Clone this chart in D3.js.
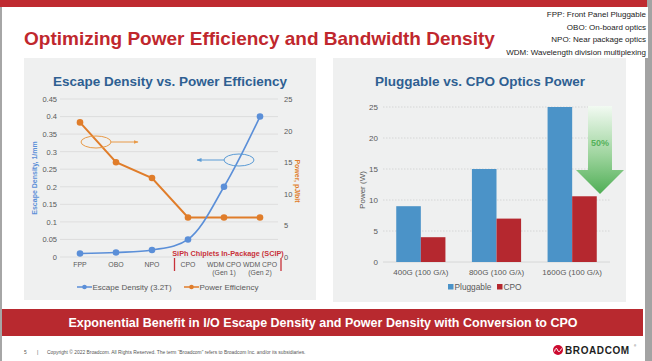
<!DOCTYPE html>
<html>
<head>
<meta charset="utf-8">
<script src="https://cdn.jsdelivr.net/npm/d3@7"></script>
<style>
  body { margin: 0; background: #fff; }
  svg { display: block; font-family: "Liberation Sans", Arial, sans-serif; }
</style>
</head>
<body>
<div id="slide"></div>
<script>
// left chart data
const stages = ['FPP', 'OBO', 'NPO', 'CPO', 'WDM CPO (Gen 1)', 'WDM CPO (Gen 2)']
const stageLines = [['FPP'], ['OBO'], ['NPO'], ['CPO'], ['WDM CPO', '(Gen 1)'], ['WDM CPO', '(Gen 2)']]
const escapeDensity = [0.01, 0.013, 0.02, 0.05, 0.2, 0.4]
const powerEfficiency = [21.3, 15, 12.5, 6.25, 6.25, 6.25]
const densityTicks = [0, 0.05, 0.1, 0.15, 0.2, 0.25, 0.3, 0.35, 0.4, 0.45]
const powerTicks = [0, 5, 10, 15, 20, 25]

// right chart data
const speeds = ['400G (100 G/λ)', '800G (100 G/λ)', '1600G (100 G/λ)']
const pluggablePower = [9, 15, 25]
const cpoPower = [4, 7, 10.6]
const wattTicks = [0, 5, 10, 15, 20, 25]

const notes = [
  'FPP: Front Panel Pluggable',
  'OBO: On-board optics',
  'NPO: Near package optics',
  'WDM: Wavelength division multiplexing'
]

const W = 652, H = 361
const red = '#bf2a30'
const blue = '#5b8fd8'
const orange = '#e07d2a'
const grey = '#595959'

const svg = d3.select('#slide').append('svg').attr('width', W).attr('height', H)

// ---- slide frame
svg.append('rect').attr('x', 0).attr('y', 0).attr('width', 2).attr('height', H).attr('fill', '#a6a6a6')
svg.append('rect').attr('x', 645).attr('y', 0).attr('width', 7).attr('height', H).attr('fill', '#a3a3a3')
svg.append('rect').attr('x', 0).attr('y', 0).attr('width', 647).attr('height', 7).attr('fill', red)

svg.append('text')
  .attr('x', 24).attr('y', 45)
  .attr('font-size', 19).attr('font-weight', 'bold').attr('fill', '#c0272d')
  .text('Optimizing Power Efficiency and Bandwidth Density')

svg.append('rect').attr('x', 505).attr('y', 7).attr('width', 143).attr('height', 51).attr('fill', '#fff')
svg.append('g').selectAll('text').data(notes).join('text')
  .attr('x', 646).attr('y', (d, i) => 17 + i * 12.5)
  .attr('text-anchor', 'end').attr('font-size', 8).attr('fill', '#222')
  .text(d => d)

// panels
svg.append('rect').attr('x', 24).attr('y', 58).attr('width', 292).attr('height', 242).attr('fill', '#eff0f0')
svg.append('rect').attr('x', 333).attr('y', 58).attr('width', 293).attr('height', 244).attr('fill', '#eff0f0')

// ---- left chart: escape density vs power efficiency
const L = svg.append('g')
L.append('text').attr('x', 170).attr('y', 86).attr('text-anchor', 'middle')
  .attr('font-size', 13.5).attr('font-weight', 'bold').attr('fill', '#2e5f92')
  .text('Escape Density vs. Power Efficiency')

const x = d3.scalePoint().domain(stages).range([62, 278]).padding(0.5)
const yL = d3.scaleLinear().domain([0, 0.45]).range([257, 99])
const yR = d3.scaleLinear().domain([0, 25]).range([257, 99])

L.append('g').selectAll('line').data(densityTicks).join('line')
  .attr('x1', 60).attr('x2', 278)
  .attr('y1', d => yL(d)).attr('y2', d => yL(d))
  .attr('stroke', '#d9d9d9').attr('stroke-width', 0.8)

const axL = L.append('g').attr('transform', 'translate(60,0)')
  .call(d3.axisLeft(yL).tickValues(densityTicks).tickSize(0).tickPadding(3).tickFormat(d => String(+d.toFixed(2))))
axL.select('.domain').remove()
axL.selectAll('text').attr('font-size', 7.5).attr('fill', grey).attr('font-family', 'inherit')

const axR = L.append('g').attr('transform', 'translate(281,0)')
  .call(d3.axisRight(yR).tickValues(powerTicks).tickSize(0).tickPadding(3))
axR.select('.domain').remove()
axR.selectAll('text').attr('font-size', 7.5).attr('fill', grey).attr('font-family', 'inherit')

L.append('text').attr('transform', 'translate(37,178) rotate(-90)')
  .attr('text-anchor', 'middle').attr('font-size', 7).attr('font-weight', 'bold').attr('fill', blue)
  .text('Escape Density, 1/mm')
L.append('text').attr('transform', 'translate(295,181) rotate(90)')
  .attr('text-anchor', 'middle').attr('font-size', 7).attr('font-weight', 'bold').attr('fill', orange)
  .text('Power, pJ/bit')

// category labels
const cat = L.append('g').selectAll('text').data(stageLines).join('text')
  .attr('text-anchor', 'middle').attr('font-size', 6.9).attr('fill', grey)
cat.selectAll('tspan').data((d, i) => d.map(s => ({ s, i }))).join('tspan')
  .attr('x', d => x(stages[d.i])).attr('y', (d, j) => 267 + j * 8)
  .text(d => d.s)

// SCIP bracket
L.append('text').attr('x', 228).attr('y', 255.5).attr('text-anchor', 'middle')
  .attr('font-size', 7.3).attr('font-weight', 'bold').attr('fill', '#c8323a')
  .text('SiPh Chiplets In-Package (SCIP)')
L.append('g').selectAll('line').data([174.5, 281]).join('line')
  .attr('x1', d => d).attr('x2', d => d).attr('y1', 258).attr('y2', 271)
  .attr('stroke', '#c8323a').attr('stroke-width', 1.3)

// series
const powerLine = d3.line().x((d, i) => x(stages[i])).y(d => yR(d))
const densityLine = d3.line().x((d, i) => x(stages[i])).y(d => yL(d)).curve(d3.curveCatmullRom.alpha(0.5))

L.append('path').datum(powerEfficiency).attr('d', powerLine)
  .attr('fill', 'none').attr('stroke', orange).attr('stroke-width', 2)
L.append('path').datum(escapeDensity).attr('d', densityLine)
  .attr('fill', 'none').attr('stroke', blue).attr('stroke-width', 1.6)
L.append('g').selectAll('circle').data(powerEfficiency).join('circle')
  .attr('cx', (d, i) => x(stages[i])).attr('cy', d => yR(d)).attr('r', 3.3).attr('fill', orange)
L.append('g').selectAll('circle').data(escapeDensity).join('circle')
  .attr('cx', (d, i) => x(stages[i])).attr('cy', d => yL(d)).attr('r', 3.3).attr('fill', blue)

// axis hint ellipses
const defs = svg.append('defs')
function arrowHead(id, color) {
  defs.append('marker').attr('id', id).attr('viewBox', '0 0 10 10')
    .attr('refX', 9).attr('refY', 5).attr('markerWidth', 5).attr('markerHeight', 5)
    .attr('orient', 'auto')
    .append('path').attr('d', 'M0,1L10,5L0,9z').attr('fill', color)
}
arrowHead('hOrange', '#e89a48')
arrowHead('hBlue', '#5b9bd5')

L.append('ellipse').attr('cx', 96).attr('cy', 142).attr('rx', 15).attr('ry', 6)
  .attr('fill', 'none').attr('stroke', '#e89a48').attr('stroke-width', 1)
L.append('line').attr('x1', 111).attr('x2', 138).attr('y1', 142).attr('y2', 142)
  .attr('stroke', '#e89a48').attr('stroke-width', 1).attr('marker-end', 'url(#hOrange)')
L.append('ellipse').attr('cx', 239).attr('cy', 160).attr('rx', 15).attr('ry', 6)
  .attr('fill', 'none').attr('stroke', '#5b9bd5').attr('stroke-width', 1)
L.append('line').attr('x1', 224).attr('x2', 197).attr('y1', 160).attr('y2', 160)
  .attr('stroke', '#5b9bd5').attr('stroke-width', 1).attr('marker-end', 'url(#hBlue)')

// legend
const legL = [
  { label: 'Escape Density (3.2T)', color: blue, x: 77 },
  { label: 'Power Efficiency', color: orange, x: 184 }
]
const lg = L.append('g').selectAll('g').data(legL).join('g')
  .attr('transform', d => `translate(${d.x},287)`)
lg.append('line').attr('x1', 0).attr('x2', 15).attr('stroke', d => d.color).attr('stroke-width', 1.5)
lg.append('circle').attr('cx', 7.5).attr('r', 2.3).attr('fill', d => d.color)
lg.append('text').attr('x', 15.5).attr('y', 3).attr('font-size', 8).attr('fill', grey).text(d => d.label)

// ---- right chart: pluggable vs CPO
const R = svg.append('g')
R.append('text').attr('x', 480).attr('y', 86).attr('text-anchor', 'middle')
  .attr('font-size', 13.5).attr('font-weight', 'bold').attr('fill', '#2e5f92')
  .text('Pluggable vs. CPO Optics Power')

const xb = d3.scaleBand().domain(speeds).range([383, 610]).paddingInner(0.35).paddingOuter(0.175)
const xs = d3.scaleBand().domain(['Pluggable', 'CPO']).range([0, xb.bandwidth()])
const yb = d3.scaleLinear().domain([0, 25]).range([262, 107])

R.append('g').selectAll('line').data(wattTicks).join('line')
  .attr('x1', 383).attr('x2', 610)
  .attr('y1', d => yb(d)).attr('y2', d => yb(d))
  .attr('stroke', d => d === 0 ? '#d0d0d0' : '#cfcfcf').attr('stroke-width', 0.8)
  .attr('stroke-dasharray', d => d === 0 ? null : '1.5,1.5')

const axB = R.append('g').attr('transform', 'translate(381,0)')
  .call(d3.axisLeft(yb).tickValues(wattTicks).tickSize(0).tickPadding(3))
axB.select('.domain').remove()
axB.selectAll('text').attr('font-size', 8).attr('fill', grey).attr('font-family', 'inherit')

R.append('text').attr('transform', 'translate(365,190) rotate(-90)')
  .attr('text-anchor', 'middle').attr('font-size', 8).attr('fill', grey)
  .text('Power (W)')

const series = [
  { key: 'Pluggable', values: pluggablePower, color: '#4b93c8' },
  { key: 'CPO', values: cpoPower, color: '#b5282f' }
]
R.append('g').selectAll('g').data(series).join('g')
  .attr('fill', d => d.color)
  .selectAll('rect').data(d => d.values.map((v, i) => ({ key: d.key, v, i }))).join('rect')
  .attr('x', d => xb(speeds[d.i]) + xs(d.key))
  .attr('width', xs.bandwidth())
  .attr('y', d => yb(d.v))
  .attr('height', d => yb(0) - yb(d.v))

R.append('g').selectAll('text').data(speeds).join('text')
  .attr('x', d => xb(d) + xb.bandwidth() / 2).attr('y', 275)
  .attr('text-anchor', 'middle').attr('font-size', 8).attr('fill', grey)
  .text(d => d)

// green 50% arrow
const grad = defs.append('linearGradient').attr('id', 'greenFade')
  .attr('x1', 0).attr('y1', 0).attr('x2', 0).attr('y2', 1)
grad.append('stop').attr('offset', '0%').attr('stop-color', '#f2faf2')
grad.append('stop').attr('offset', '55%').attr('stop-color', '#9fd59f')
grad.append('stop').attr('offset', '100%').attr('stop-color', '#4fae55')
R.append('path')
  .attr('d', 'M588,106L612,106L612,170L624,170L600,194L576,170L588,170Z')
  .attr('fill', 'url(#greenFade)')
R.append('text').attr('x', 600).attr('y', 146).attr('text-anchor', 'middle')
  .attr('font-size', 9).attr('font-weight', 'bold').attr('fill', '#55b25a')
  .text('50%')

// legend
const legR = R.append('g').selectAll('g').data(series).join('g')
  .attr('transform', (d, i) => `translate(${i === 0 ? 448 : 497},287)`)
legR.append('rect').attr('x', 0).attr('y', -3).attr('width', 5.5).attr('height', 5.5).attr('fill', d => d.color)
legR.append('text').attr('x', 6.5).attr('y', 3).attr('font-size', 8.3).attr('fill', grey).text(d => d.key)

// ---- bottom banner + footer
svg.append('rect').attr('x', 2).attr('y', 309).attr('width', 641).attr('height', 27).attr('fill', '#b8292f')
svg.append('text').attr('x', 323).attr('y', 327).attr('text-anchor', 'middle')
  .attr('font-size', 12.5).attr('font-weight', 'bold').attr('fill', '#fff')
  .text('Exponential Benefit in I/O Escape Density and Power Density with Conversion to CPO')

const foot = svg.append('g').attr('font-size', 4.9).attr('fill', '#555')
foot.append('text').attr('x', 24).attr('y', 354).text('5')
foot.append('text').attr('x', 37).attr('y', 354).text('|')
foot.append('text').attr('x', 47).attr('y', 354)
  .text('Copyright © 2022 Broadcom.  All Rights Reserved. The term \u201CBroadcom\u201D refers to Broadcom Inc. and/or its subsidiaries.')

const logo = svg.append('g')
logo.append('circle').attr('cx', 558).attr('cy', 350).attr('r', 5).attr('fill', '#cc0a2f')
logo.append('path').attr('d', 'M554.5,351.5 Q556,346 557.5,350 Q559,354 561.5,348.5')
  .attr('fill', 'none').attr('stroke', '#fff').attr('stroke-width', 1)
logo.append('text').attr('x', 565).attr('y', 354).attr('font-size', 10).attr('font-weight', 'bold')
  .attr('letter-spacing', 0.6).attr('fill', '#1e1e1e').text('BROADCOM')
logo.append('text').attr('x', 634).attr('y', 347).attr('font-size', 3).attr('fill', '#333').text('®')
</script>
</body>
</html>
